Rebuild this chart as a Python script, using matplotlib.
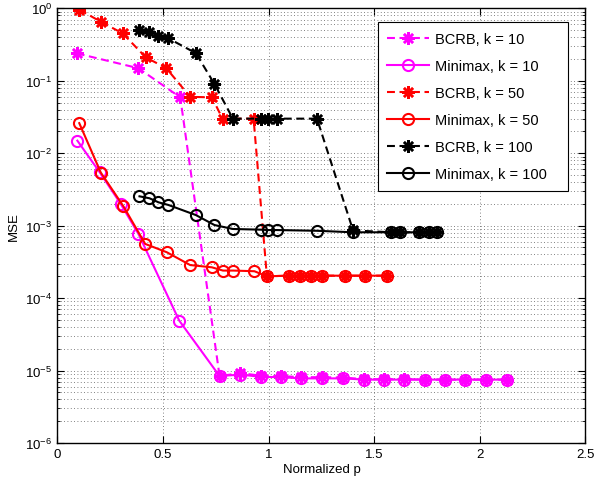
import matplotlib
matplotlib.use('Agg')
import matplotlib.pyplot as plt
from matplotlib.ticker import LogLocator, NullFormatter

plt.rcParams['font.family'] = ['Liberation Sans', 'DejaVu Sans']
plt.rcParams['mathtext.fontset'] = 'custom'
plt.rcParams['mathtext.rm'] = 'Liberation Sans'

# values
x_k10_bcrb = [0.092, 0.384, 0.582, 0.768, 0.867, 0.963, 1.06, 1.154, 1.253, 1.354,
              1.453, 1.547, 1.642, 1.74, 1.835, 1.931, 2.03, 2.129]
y_k10_bcrb = [0.239, 0.149, 0.059, 8.4e-6, 9.2e-6, 8.5e-6, 8.4e-6, 8.1e-6, 8.1e-6, 8.0e-6,
              7.6e-6, 7.6e-6, 7.6e-6, 7.5e-6, 7.5e-6, 7.5e-6, 7.5e-6, 7.5e-6]

x_k10_mm = [0.095, 0.2, 0.3, 0.384, 0.577, 0.768, 0.867, 0.963, 1.06, 1.154, 1.253, 1.354,
            1.453, 1.547, 1.642, 1.74, 1.835, 1.931, 2.03, 2.129]
y_k10_mm = [0.0149, 0.0055, 0.0020, 7.7e-4, 4.9e-5, 8.4e-6, 8.8e-6, 8.2e-6, 8.1e-6, 7.8e-6,
            7.8e-6, 7.8e-6, 7.5e-6, 7.5e-6, 7.5e-6, 7.5e-6, 7.5e-6, 7.5e-6, 7.5e-6, 7.5e-6]

x_k50_bcrb = [0.104, 0.207, 0.31, 0.419, 0.515, 0.629, 0.732, 0.782, 0.929, 0.992,
              1.095, 1.15, 1.2, 1.253, 1.36, 1.458, 1.561]
y_k50_bcrb = [0.96, 0.65, 0.45, 0.21, 0.15, 0.060, 0.059, 0.030, 0.030, 2.0e-4,
              2.04e-4, 2.04e-4, 2.04e-4, 2.04e-4, 2.04e-4, 2.04e-4, 2.04e-4]

x_k50_mm = [0.104, 0.206, 0.313, 0.416, 0.518, 0.629, 0.732, 0.784, 0.834, 0.933, 0.992,
            1.095, 1.15, 1.2, 1.253, 1.36, 1.458, 1.561]
y_k50_mm = [0.026, 0.0054, 0.00185, 5.6e-4, 4.3e-4, 2.86e-4, 2.66e-4, 2.4e-4, 2.4e-4, 2.35e-4,
            2.0e-4, 2.04e-4, 2.04e-4, 2.04e-4, 2.04e-4, 2.04e-4, 2.04e-4, 2.04e-4]

x_k100 = [0.389, 0.436, 0.479, 0.526, 0.656, 0.744, 0.831, 0.965, 0.995, 1.04, 1.229,
          1.40, 1.58, 1.62, 1.714, 1.757, 1.797]
y_k100_bcrb = [0.50, 0.47, 0.42, 0.385, 0.24, 0.090, 0.030, 0.030, 0.030, 0.030, 0.030,
               8.6e-4, 8.1e-4, 8.1e-4, 8.1e-4, 8.1e-4, 8.1e-4]
y_k100_mm = [2.54e-3, 2.39e-3, 2.1e-3, 1.93e-3, 1.4e-3, 1.02e-3, 9.0e-4, 8.8e-4, 8.7e-4,
             8.7e-4, 8.5e-4, 8.1e-4, 8.1e-4, 8.1e-4, 8.1e-4, 8.1e-4, 8.1e-4]

fig = plt.figure(figsize=(5.95, 4.85), dpi=100)
ax = fig.add_axes([0.0963, 0.0845, 0.8877, 0.8963])

star = (8, 2, 0)  # matlab style asterisk
lw = 1.5
dash = (3.8, 2.2)

def bcrb(x, y, c, label):
    ax.plot(x, y, color=c, lw=lw, dashes=dash, marker=star, ms=9, mew=1.8, label=label)

def minimax(x, y, c, label):
    ax.plot(x, y, color=c, lw=lw, marker='o', ms=8, mfc='none', mew=1.5, label=label)

# trailing spaces mimic the wide matlab legend box
bcrb(x_k10_bcrb, y_k10_bcrb, 'magenta', 'BCRB, k = 10')
minimax(x_k10_mm, y_k10_mm, 'magenta', 'Minimax, k = 10')
bcrb(x_k50_bcrb, y_k50_bcrb, 'red', 'BCRB, k = 50')
minimax(x_k50_mm, y_k50_mm, 'red', 'Minimax, k = 50')
bcrb(x_k100, y_k100_bcrb, 'black', 'BCRB, k = 100')
minimax(x_k100, y_k100_mm, 'black', 'Minimax, k = 100   ')

ax.set_yscale('log')
ax.set_xlim(0, 2.5)
ax.set_ylim(1e-6, 1)
ax.set_xticks([0, 0.5, 1, 1.5, 2, 2.5])
ax.set_xticklabels(['0', '0.5', '1', '1.5', '2', '2.5'])
ax.yaxis.set_major_locator(LogLocator(base=10, numticks=10))
ax.yaxis.set_minor_locator(LogLocator(base=10, subs=range(2, 10), numticks=20))
ax.yaxis.set_minor_formatter(NullFormatter())

grid_style = dict(linestyle=(0, (1, 3)), color='0.35', lw=0.6)
ax.grid(True, which='major', **grid_style)
ax.grid(True, which='minor', axis='y', **grid_style)
ax.tick_params(which='both', direction='in', top=True, right=True, labelsize=9.5)
ax.tick_params(which='major', length=5, width=0.8)
ax.tick_params(which='minor', length=2.5, width=0.6)
for s in ax.spines.values():
    s.set_linewidth(1.0)

ax.set_xlabel('Normalized p', fontsize=9.5, labelpad=2)
ax.set_ylabel('MSE', fontsize=9.5, labelpad=4)

leg = ax.legend(loc='upper right', bbox_to_anchor=(0.9675, 0.968), borderaxespad=0,
                fontsize=10.5, fancybox=False, framealpha=1, edgecolor='black',
                handlelength=2.9, labelspacing=0.9, borderpad=0.65, handletextpad=0.35)
leg.get_frame().set_linewidth(0.8)

fig.savefig('out.png', dpi=100)
